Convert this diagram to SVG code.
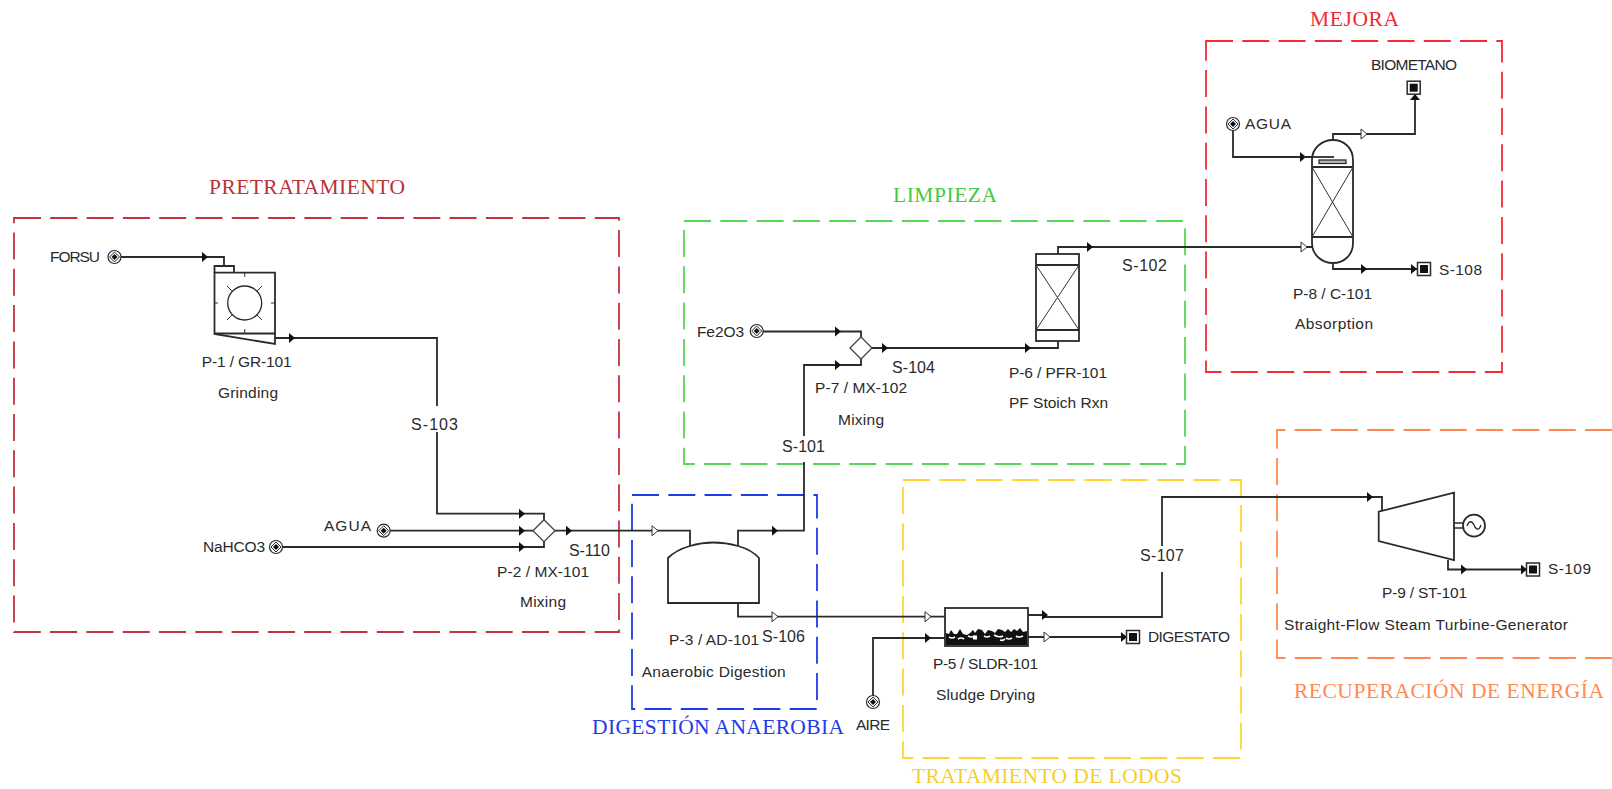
<svg xmlns="http://www.w3.org/2000/svg" width="1612" height="789" viewBox="0 0 1612 789">
<style>
.b{fill:none;stroke-width:1.8;stroke-dasharray:27 9.3}
.l{fill:none;stroke:#2b2b2b;stroke-width:1.8}
.e{fill:#fff;stroke:#2b2b2b;stroke-width:1.8}
.t{fill:none;stroke:#333;stroke-width:1}
text{font-family:"Liberation Sans",Arial,sans-serif;font-size:15.5px;fill:#2a2a2a}
.s{font-size:16px}
.h{font-family:"Liberation Serif","Times New Roman",serif;font-size:21.5px}
.sa{fill:#111}
.oa{fill:#fff;stroke:#333;stroke-width:1}
</style>
<defs>
<path id="as" class="sa" d="M-3-5L3 0L-3 5Z"/>
<path id="ao" class="oa" d="M-3-5L3 0L-3 5Z"/>
<path id="au" class="sa" d="M-5 3L0-3L5 3Z"/>
<g id="src"><circle r="6.500" fill="#fff" stroke="#2b2b2b" stroke-width="1.200"/><path d="M0-5L5 0L0 5L-5 0Z" fill="#fff" stroke="#2b2b2b" stroke-width="1"/><path d="M0-3L3 0L0 3L-3 0Z" fill="#111"/></g>
<g id="snk"><rect x="-6.500" y="-6.500" width="13" height="13" fill="#fff" stroke="#2b2b2b" stroke-width="1.500"/><rect x="-4" y="-4" width="8" height="8" fill="#111"/></g>
<path id="mix" d="M0-11L11 0L0 11L-11 0Z" fill="#fff" stroke="#444" stroke-width="1.300"/>
</defs>
<g id="areas">
<rect class="b" x="14" y="218" width="605" height="414" stroke="#c1343c"/>
<text class="h" x="209" y="194" textLength="196" style="fill:#b8323a">PRETRATAMIENTO</text>
<rect class="b" x="632" y="495" width="185" height="214" stroke="#1f3be8"/>
<text class="h" x="592" y="734" textLength="252" style="fill:#1f3be8">DIGESTIÓN ANAEROBIA</text>
<rect class="b" x="684" y="221" width="501" height="243" stroke="#55d855"/>
<text class="h" x="893" y="202" textLength="104" style="fill:#3fcb3f">LIMPIEZA</text>
<rect class="b" x="1206" y="41" width="296" height="331" stroke="#f52a35"/>
<text class="h" x="1310" y="26" textLength="89" style="fill:#f02a35">MEJORA</text>
<rect class="b" x="903" y="480" width="338" height="278" stroke="#ffd52e"/>
<text class="h" x="912" y="783" textLength="270" style="fill:#f5cf30">TRATAMIENTO DE LODOS</text>
<path class="b" d="M1612 430H1277V658H1612" stroke="#ff8a50"/>
<text class="h" x="1294" y="698" textLength="310" style="fill:#ff8a50">RECUPERACIÓN DE ENERGÍA</text>
</g>
<g id="connectors">
<path class="l" d="M118 257H224V266"/>
<path class="l" d="M275 338H437V406M437 432V513.700H544V520"/>
<path class="l" d="M389 530.700H533"/>
<path class="l" d="M282 547H544V541"/>
<path class="l" d="M555 530.700H690V546"/>
<path class="l" d="M738 546V530.700H804V462M804 436V365H861V359"/>
<path class="l" d="M762 331.500H861V337"/>
<path class="l" d="M872 348H1058V341"/>
<path class="l" d="M1058 254V247H1312"/>
<path class="l" d="M738 603V616.700H945"/>
<path class="l" d="M873 696V638H945"/>
<path class="l" d="M1028 615H1043V617H1162V572M1162 546V497H1382V510"/>
<path class="l" d="M1028 637H1127"/>
<path class="l" d="M1448 560V569.500H1527"/>
<path class="l" d="M1233 130V157H1334V160"/>
<path class="l" d="M1333 140V134H1415V95"/>
<path class="l" d="M1333 263V269H1418"/>
<use href="#as" x="205" y="257"/><use href="#as" x="292" y="338"/>
<use href="#as" x="522" y="513.700"/><use href="#as" x="522" y="530.700"/><use href="#as" x="522" y="547"/>
<use href="#as" x="569" y="530.700"/><use href="#ao" x="655" y="530.700"/><use href="#as" x="775" y="530.700"/>
<use href="#ao" x="775" y="616.700"/><use href="#ao" x="928" y="616.700"/><use href="#as" x="928" y="638"/>
<use href="#as" x="838" y="331.500"/><use href="#as" x="838" y="365"/><use href="#as" x="885" y="348"/><use href="#as" x="1028" y="348"/>
<use href="#as" x="1090" y="247"/><use href="#ao" x="1304" y="247"/>
<use href="#as" x="1045" y="615"/><use href="#ao" x="1047" y="637"/><use href="#as" x="1124" y="637"/>
<use href="#as" x="1370" y="497"/><use href="#as" x="1464" y="569.500"/><use href="#as" x="1524" y="569.500"/>
<use href="#as" x="1303" y="157"/><use href="#ao" x="1364" y="134"/><use href="#as" x="1364" y="269"/><use href="#as" x="1414" y="269"/>
<use href="#au" x="1415" y="97"/>
</g>
<g id="FORSU"><use href="#src" x="114.500" y="257"/><text x="50" y="262" textLength="50">FORSU</text></g>
<g id="P-1">
<path class="l" d="M214.500 272.700V266H234V272.700"/>
<path class="e" d="M214.500 272.700H275V344L214.500 334Z"/>
<path class="l" d="M214.500 333.500H275"/>
<circle cx="244.700" cy="303" r="17" fill="#fff" stroke="#2b2b2b" stroke-width="1.300"/>
<path class="t" d="M227 286L232 291M262 286L257 291M227 320L232 315M262 320L257 315M244.700 273V277M244.700 329V333M214.500 303H218M275 303H271"/>
<text x="201.700" y="367" textLength="90">P-1 / GR-101</text>
<text x="218" y="398" textLength="60">Grinding</text>
</g>
<g id="AGUA-1"><use href="#src" x="383.700" y="530.700"/><text x="324" y="531" textLength="47">AGUA</text></g>
<g id="NaHCO3"><use href="#src" x="276" y="547"/><text x="203" y="552" textLength="62">NaHCO3</text></g>
<g id="P-2"><use href="#mix" x="544" y="530.700"/>
<text x="497" y="577" textLength="92">P-2 / MX-101</text><text x="520" y="607" textLength="46">Mixing</text></g>
<g id="P-3">
<path class="e" d="M668 558Q676 550 690 546Q713 539 738 546Q752 550 759 558V603H668Z"/>
<text x="669" y="645" textLength="90">P-3 / AD-101</text>
<text x="641.700" y="677" textLength="144">Anaerobic Digestion</text>
</g>
<g id="Fe2O3"><use href="#src" x="756.700" y="331"/><text x="697" y="337" textLength="47">Fe2O3</text></g>
<g id="P-7"><use href="#mix" x="861" y="348"/>
<text x="815" y="393" textLength="92">P-7 / MX-102</text><text x="838" y="425" textLength="46">Mixing</text></g>
<g id="P-6">
<rect class="e" x="1036" y="254" width="43" height="87"/>
<path class="l" d="M1036 265H1079M1036 330H1079"/>
<path class="t" d="M1036 265L1079 330M1079 265L1036 330"/>
<text x="1009" y="378" textLength="98">P-6 / PFR-101</text>
<text x="1009" y="408" textLength="99">PF Stoich Rxn</text>
</g>
<g id="AGUA-2"><use href="#src" x="1233" y="124"/><text x="1245" y="129" textLength="46">AGUA</text></g>
<g id="P-8">
<path class="e" d="M1312 160C1312 148 1322 140 1333 140C1344 140 1353 148 1353 160V243C1353 255 1344 263 1333 263C1322 263 1312 255 1312 243Z"/>
<path class="l" d="M1312 167H1353M1312 237H1353"/>
<path class="t" d="M1312 167L1353 237M1353 167L1312 237"/>
<path class="l" d="M1303 157H1334"/>
<rect x="1319" y="160" width="27" height="3.500" fill="#bbb" stroke="#2b2b2b" stroke-width="1.300"/>
<text x="1293" y="299" textLength="79">P-8 / C-101</text>
<text x="1295" y="329" textLength="78">Absorption</text>
</g>
<g id="BIOMETANO"><use href="#snk" x="1413.700" y="87.700"/><text x="1371" y="70" textLength="86">BIOMETANO</text></g>
<g id="S-108"><use href="#snk" x="1424" y="269"/><text x="1439" y="275" textLength="43">S-108</text></g>
<g id="P-5">
<rect class="e" x="945" y="608" width="83" height="38"/>
<path d="M946 645V633L949 634L951 630L954 634L957 634L960 629L963 634L967 635L970 633L973 630L975 633L978 629L982 630L985 634L988 630L992 631L995 633L998 629L1002 630L1005 632L1008 629L1011 632L1014 629L1017 631L1020 628L1023 632L1027 631V645Z" fill="#111"/>
<path d="M949 637q3 2 6 0M958 639q3-2 6 0M968 636q4 2 7 0M984 636q3 2 6 0M994 635q5 3 9 1M1006 638q3 2 6 0M1016 636q3 2 7 0M1000 640q3 1 5-1" stroke="#fff" stroke-width="1.600" fill="none"/>
<rect x="973" y="635.500" width="4" height="4" fill="#fff"/>
<text x="933" y="669" textLength="105">P-5 / SLDR-101</text>
<text x="936" y="700" textLength="99">Sludge Drying</text>
</g>
<g id="AIRE"><use href="#src" x="873" y="702"/><text x="856" y="730" textLength="34">AIRE</text></g>
<g id="DIGESTATO"><use href="#snk" x="1133" y="637"/><text x="1148" y="642" textLength="82">DIGESTATO</text></g>
<g id="P-9">
<path class="e" d="M1378.700 511.700L1454 492.700V560L1378.700 541Z"/>
<path class="l" d="M1454 523H1464M1454 528H1464" style="stroke-width:1.300"/>
<circle class="e" cx="1474" cy="525.700" r="11"/>
<path class="l" d="M1467 526C1469 520 1472 521 1474 525C1476 530 1479 531 1481 525" style="stroke-width:1.300"/>
<text x="1382" y="598" textLength="85">P-9 / ST-101</text>
<text x="1284" y="630" textLength="284">Straight-Flow Steam Turbine-Generator</text>
</g>
<g id="S-109"><use href="#snk" x="1533" y="569.500"/><text x="1548" y="574" textLength="43">S-109</text></g>
<g id="stream-labels">
<text class="s" x="411" y="430" textLength="47">S-103</text>
<text class="s" x="569" y="556" textLength="41">S-110</text>
<text class="s" x="762" y="642" textLength="43">S-106</text>
<text class="s" x="892" y="373" textLength="43">S-104</text>
<text class="s" x="782" y="452" textLength="43">S-101</text>
<text class="s" x="1122" y="271" textLength="45">S-102</text>
<text class="s" x="1140" y="561" textLength="44">S-107</text>
</g>
</svg>
